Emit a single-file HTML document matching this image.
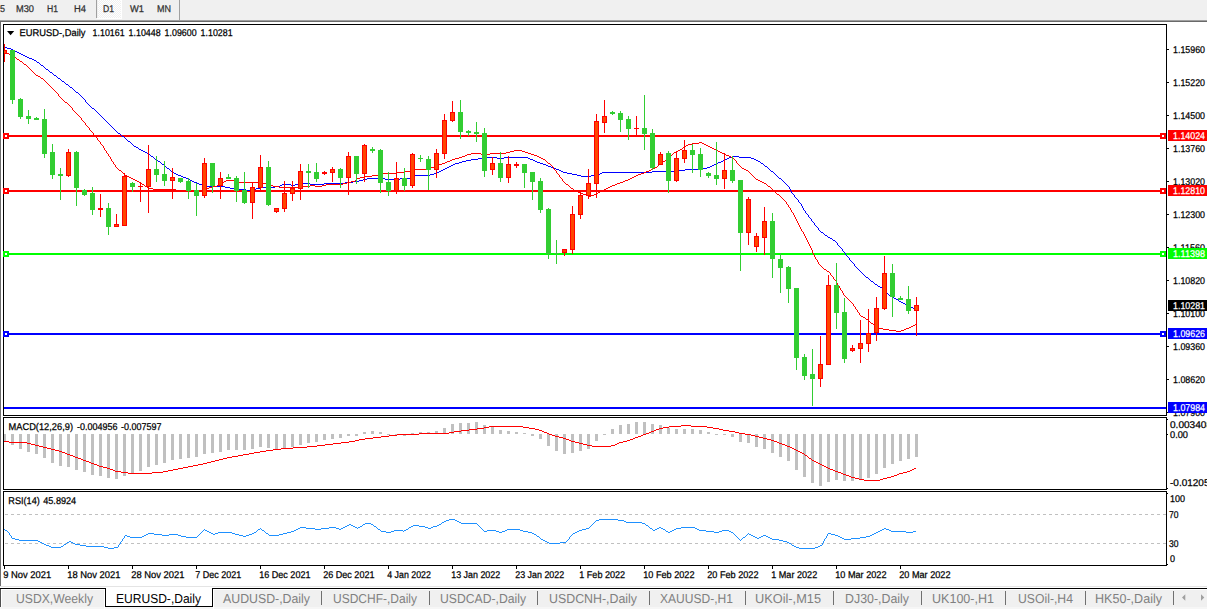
<!DOCTYPE html>
<html><head><meta charset="utf-8"><title>chart</title>
<style>
html,body{margin:0;padding:0;background:#fff;overflow:hidden}
svg{display:block;font-family:"Liberation Sans",sans-serif;text-rendering:geometricPrecision}
</style></head><body>
<svg width="1207" height="609" viewBox="0 0 1207 609" shape-rendering="crispEdges">
<rect x="0" y="0" width="1207" height="20" fill="#f0f0f0"/>
<rect x="0" y="20" width="1207" height="1" fill="#a0a0a0"/>
<rect x="0" y="21" width="1207" height="1" fill="#696969"/>
<rect x="0" y="22" width="1" height="564" fill="#6e6e6e"/>
<pattern id="dz" width="2" height="2" patternUnits="userSpaceOnUse"><rect width="2" height="2" fill="#f0f0f0"/><rect width="1" height="1" fill="#fff"/><rect x="1" y="1" width="1" height="1" fill="#fff"/></pattern>
<rect x="98" y="0" width="23" height="18" fill="url(#dz)"/>
<rect x="121" y="0" width="1" height="19" fill="#ffffff"/>
<rect x="97" y="18" width="25" height="1" fill="#ffffff"/>
<rect x="96" y="0" width="1" height="18" fill="#a0a0a0"/>
<rect x="179" y="0" width="1" height="20" fill="#a0a0a0"/>
<text x="0" y="12" font-size="9.8" fill="#303030" text-anchor="start" textLength="5" lengthAdjust="spacingAndGlyphs" stroke="#303030" stroke-width=".25">5</text>
<text x="16" y="12" font-size="9.8" fill="#303030" text-anchor="start" textLength="18" lengthAdjust="spacingAndGlyphs" stroke="#303030" stroke-width=".25">M30</text>
<text x="47" y="12" font-size="9.8" fill="#303030" text-anchor="start" textLength="11" lengthAdjust="spacingAndGlyphs" stroke="#303030" stroke-width=".25">H1</text>
<text x="74" y="12" font-size="9.8" fill="#303030" text-anchor="start" textLength="12" lengthAdjust="spacingAndGlyphs" stroke="#303030" stroke-width=".25">H4</text>
<text x="103" y="12" font-size="9.8" fill="#303030" text-anchor="start" textLength="11" lengthAdjust="spacingAndGlyphs" stroke="#303030" stroke-width=".25">D1</text>
<text x="130" y="12" font-size="9.8" fill="#303030" text-anchor="start" textLength="14" lengthAdjust="spacingAndGlyphs" stroke="#303030" stroke-width=".25">W1</text>
<text x="157" y="12" font-size="9.8" fill="#303030" text-anchor="start" textLength="14" lengthAdjust="spacingAndGlyphs" stroke="#303030" stroke-width=".25">MN</text>
<rect x="3" y="24" width="1164" height="1" fill="#000"/>
<rect x="3" y="24" width="1" height="392" fill="#000"/>
<rect x="3" y="415" width="1164" height="1" fill="#000"/>
<rect x="1166" y="24" width="1" height="392" fill="#000"/>
<rect x="3" y="417" width="1164" height="1" fill="#000"/>
<rect x="3" y="417" width="1" height="73" fill="#000"/>
<rect x="3" y="489" width="1164" height="1" fill="#000"/>
<rect x="1166" y="417" width="1" height="73" fill="#000"/>
<rect x="3" y="491" width="1164" height="1" fill="#000"/>
<rect x="3" y="491" width="1" height="75" fill="#000"/>
<rect x="3" y="565" width="1164" height="1" fill="#000"/>
<rect x="1166" y="491" width="1" height="75" fill="#000"/>
<clipPath id="cm"><rect x="4" y="25" width="1162" height="390"/></clipPath>
<g clip-path="url(#cm)">
<rect x="3" y="135" width="1164" height="2" fill="#ff0000"/>
<rect x="3" y="190" width="1164" height="2" fill="#ff0000"/>
<rect x="3" y="253" width="1164" height="2" fill="#00ff00"/>
<rect x="3" y="333" width="1164" height="2" fill="#0000ff"/>
<rect x="3" y="407" width="1164" height="2" fill="#0000ff"/>
<path d="M4 47h3v1h-3zM7 48h4v1h-4zM11 49h2v1h-2zM13 50h2v1h-2zM15 51h2v1h-2zM17 52h2v1h-2zM19 53h2v1h-2zM21 54h2v1h-2zM23 55h2v1h-2zM25 56h2v1h-2zM27 57h2v1h-2zM29 58h3v1h-3zM32 59h2v1h-2zM34 60h2v1h-2zM36 61h1v1h-1zM37 62h2v1h-2zM39 63h1v1h-1zM40 64h1v1h-1zM41 65h2v1h-2zM43 66h1v1h-1zM44 67h1v1h-1zM45 68h1v1h-1zM46 69h2v1h-2zM48 70h1v1h-1zM49 71h1v1h-1zM50 72h2v1h-2zM52 73h1v1h-1zM53 74h1v1h-1zM54 75h2v1h-2zM56 76h1v1h-1zM57 77h1v1h-1zM58 78h2v1h-2zM60 79h1v1h-1zM61 80h1v1h-1zM62 81h2v1h-2zM64 82h1v1h-1zM65 83h1v1h-1zM66 84h2v1h-2zM68 85h1v1h-1zM69 86h1v1h-1zM70 87h2v1h-2zM72 88h1v1h-1zM73 89h1v1h-1zM74 90h1v1h-1zM75 91h1v1h-1zM76 92h2v1h-2zM78 93h1v1h-1zM79 94h1v1h-1zM80 95h1v1h-1zM81 96h1v1h-1zM82 97h1v1h-1zM83 98h1v1h-1zM84 99h1v1h-1zM85 100h1v1h-1zM85 101h1v1h-1zM86 102h1v1h-1zM87 103h1v1h-1zM88 104h1v1h-1zM89 105h1v1h-1zM90 106h1v1h-1zM91 107h1v1h-1zM92 108h2v1h-2zM94 109h1v1h-1zM95 110h1v1h-1zM96 111h1v1h-1zM97 112h1v1h-1zM98 113h1v1h-1zM99 114h1v1h-1zM100 115h1v1h-1zM101 116h1v1h-1zM102 117h1v1h-1zM103 118h1v1h-1zM104 119h1v1h-1zM105 120h1v1h-1zM106 121h1v1h-1zM107 122h1v1h-1zM108 123h1v1h-1zM109 124h1v1h-1zM110 125h1v1h-1zM111 126h1v1h-1zM112 127h1v1h-1zM113 128h1v1h-1zM114 129h1v1h-1zM115 130h1v1h-1zM116 131h1v1h-1zM117 132h1v1h-1zM118 133h2v1h-2zM120 134h1v1h-1zM121 135h1v1h-1zM122 136h2v1h-2zM124 137h1v1h-1zM125 138h1v1h-1zM126 139h1v1h-1zM127 140h1v1h-1zM128 141h2v1h-2zM130 142h1v1h-1zM131 143h1v1h-1zM132 144h1v1h-1zM133 145h1v1h-1zM134 146h2v1h-2zM136 147h2v1h-2zM138 148h1v1h-1zM139 149h2v1h-2zM141 150h2v1h-2zM143 151h2v1h-2zM145 152h2v1h-2zM147 153h1v1h-1zM148 154h2v1h-2zM150 155h1v1h-1zM151 156h2v1h-2zM732 156h7v1h-7zM153 157h1v1h-1zM485 157h12v1h-12zM504 157h24v1h-24zM729 157h3v1h-3zM739 157h12v1h-12zM154 158h1v1h-1zM478 158h7v1h-7zM497 158h7v1h-7zM528 158h2v1h-2zM727 158h2v1h-2zM751 158h3v1h-3zM155 159h2v1h-2zM471 159h7v1h-7zM530 159h3v1h-3zM725 159h2v1h-2zM754 159h2v1h-2zM157 160h1v1h-1zM466 160h5v1h-5zM533 160h2v1h-2zM723 160h2v1h-2zM756 160h2v1h-2zM158 161h2v1h-2zM462 161h4v1h-4zM535 161h2v1h-2zM721 161h2v1h-2zM758 161h2v1h-2zM160 162h1v1h-1zM459 162h3v1h-3zM537 162h3v1h-3zM718 162h3v1h-3zM760 162h1v1h-1zM161 163h1v1h-1zM455 163h4v1h-4zM540 163h3v1h-3zM716 163h2v1h-2zM761 163h2v1h-2zM162 164h2v1h-2zM453 164h2v1h-2zM543 164h3v1h-3zM714 164h2v1h-2zM763 164h1v1h-1zM164 165h1v1h-1zM451 165h2v1h-2zM546 165h2v1h-2zM712 165h2v1h-2zM764 165h1v1h-1zM165 166h1v1h-1zM449 166h2v1h-2zM548 166h3v1h-3zM710 166h2v1h-2zM765 166h2v1h-2zM166 167h1v1h-1zM447 167h2v1h-2zM551 167h3v1h-3zM707 167h3v1h-3zM767 167h1v1h-1zM167 168h2v1h-2zM445 168h2v1h-2zM554 168h2v1h-2zM703 168h4v1h-4zM768 168h1v1h-1zM169 169h1v1h-1zM443 169h2v1h-2zM556 169h3v1h-3zM685 169h18v1h-18zM769 169h1v1h-1zM170 170h1v1h-1zM441 170h2v1h-2zM559 170h2v1h-2zM678 170h7v1h-7zM770 170h1v1h-1zM171 171h2v1h-2zM439 171h2v1h-2zM561 171h2v1h-2zM652 171h26v1h-26zM771 171h2v1h-2zM173 172h1v1h-1zM437 172h2v1h-2zM563 172h4v1h-4zM602 172h50v1h-50zM773 172h1v1h-1zM174 173h2v1h-2zM434 173h3v1h-3zM567 173h5v1h-5zM600 173h2v1h-2zM774 173h1v1h-1zM176 174h2v1h-2zM430 174h4v1h-4zM572 174h5v1h-5zM597 174h3v1h-3zM775 174h1v1h-1zM178 175h3v1h-3zM415 175h15v1h-15zM577 175h4v1h-4zM591 175h6v1h-6zM776 175h1v1h-1zM181 176h2v1h-2zM413 176h2v1h-2zM581 176h10v1h-10zM777 176h1v1h-1zM183 177h3v1h-3zM410 177h3v1h-3zM778 177h1v1h-1zM186 178h2v1h-2zM367 178h18v1h-18zM400 178h10v1h-10zM779 178h2v1h-2zM188 179h2v1h-2zM363 179h4v1h-4zM385 179h15v1h-15zM781 179h1v1h-1zM190 180h2v1h-2zM359 180h4v1h-4zM782 180h1v1h-1zM192 181h2v1h-2zM353 181h6v1h-6zM783 181h1v1h-1zM194 182h3v1h-3zM345 182h8v1h-8zM784 182h1v1h-1zM197 183h2v1h-2zM302 183h8v1h-8zM324 183h21v1h-21zM785 183h1v1h-1zM199 184h4v1h-4zM282 184h9v1h-9zM295 184h7v1h-7zM310 184h14v1h-14zM786 184h1v1h-1zM203 185h4v1h-4zM280 185h2v1h-2zM291 185h4v1h-4zM787 185h1v1h-1zM207 186h18v1h-18zM275 186h5v1h-5zM788 186h1v1h-1zM225 187h5v1h-5zM261 187h14v1h-14zM789 187h1v1h-1zM230 188h8v1h-8zM256 188h5v1h-5zM789 188h1v1h-1zM238 189h8v1h-8zM252 189h4v1h-4zM790 189h1v1h-1zM246 190h6v1h-6zM790 190h1v1h-1zM791 191h1v1h-1zM791 192h1v1h-1zM792 193h1v1h-1zM793 194h1v1h-1zM794 195h1v1h-1zM794 196h1v1h-1zM795 197h1v1h-1zM796 198h1v1h-1zM797 199h1v1h-1zM798 200h1v1h-1zM798 201h1v1h-1zM799 202h1v1h-1zM800 203h1v1h-1zM801 204h1v1h-1zM801 205h1v1h-1zM802 206h1v1h-1zM802 207h1v1h-1zM803 208h1v1h-1zM803 209h1v1h-1zM804 210h1v1h-1zM805 211h1v1h-1zM805 212h1v1h-1zM806 213h1v1h-1zM807 214h1v1h-1zM808 215h1v1h-1zM808 216h1v1h-1zM809 217h1v1h-1zM810 218h1v1h-1zM811 219h1v1h-1zM811 220h1v1h-1zM812 221h1v1h-1zM813 222h1v1h-1zM814 223h1v1h-1zM814 224h1v1h-1zM815 225h1v1h-1zM816 226h1v1h-1zM817 227h1v1h-1zM818 228h1v1h-1zM818 229h1v1h-1zM819 230h1v1h-1zM820 231h1v1h-1zM821 232h2v1h-2zM823 233h1v1h-1zM824 234h1v1h-1zM825 235h2v1h-2zM827 236h1v1h-1zM828 237h2v1h-2zM830 238h2v1h-2zM832 239h1v1h-1zM833 240h2v1h-2zM835 241h1v1h-1zM836 242h1v1h-1zM837 243h1v1h-1zM837 244h1v1h-1zM838 245h1v1h-1zM839 246h1v1h-1zM840 247h1v1h-1zM841 248h1v1h-1zM842 249h1v1h-1zM842 250h1v1h-1zM843 251h1v1h-1zM844 252h1v1h-1zM845 253h1v1h-1zM845 254h1v1h-1zM846 255h1v1h-1zM847 256h1v1h-1zM848 257h1v1h-1zM849 258h1v1h-1zM849 259h1v1h-1zM850 260h1v1h-1zM851 261h1v1h-1zM852 262h1v1h-1zM853 263h1v1h-1zM854 264h1v1h-1zM854 265h1v1h-1zM855 266h1v1h-1zM856 267h1v1h-1zM857 268h1v1h-1zM858 269h1v1h-1zM859 270h1v1h-1zM860 271h1v1h-1zM861 272h1v1h-1zM862 273h1v1h-1zM863 274h1v1h-1zM864 275h1v1h-1zM865 276h1v1h-1zM866 277h2v1h-2zM868 278h1v1h-1zM869 279h1v1h-1zM870 280h1v1h-1zM871 281h2v1h-2zM873 282h1v1h-1zM874 283h1v1h-1zM875 284h2v1h-2zM877 285h1v1h-1zM878 286h2v1h-2zM880 287h2v1h-2zM882 288h1v1h-1zM883 289h1v1h-1zM884 290h1v1h-1zM885 291h1v1h-1zM886 292h1v1h-1zM887 293h1v1h-1zM888 294h1v1h-1zM889 295h1v1h-1zM890 296h2v1h-2zM892 297h2v1h-2zM894 298h2v1h-2zM896 299h2v1h-2zM898 300h1v1h-1zM899 301h2v1h-2zM901 302h2v1h-2zM903 303h2v1h-2zM905 304h2v1h-2zM907 305h2v1h-2zM909 306h2v1h-2zM911 307h2v1h-2zM913 308h4v1h-4z" fill="#0000ff"/>
<path d="M4 52h2v1h-2zM6 53h3v1h-3zM9 54h2v1h-2zM11 55h2v1h-2zM13 56h1v1h-1zM14 57h2v1h-2zM16 58h1v1h-1zM17 59h2v1h-2zM19 60h1v1h-1zM20 61h2v1h-2zM22 62h1v1h-1zM23 63h1v1h-1zM24 64h2v1h-2zM26 65h1v1h-1zM27 66h1v1h-1zM28 67h1v1h-1zM29 68h1v1h-1zM30 69h1v1h-1zM31 70h1v1h-1zM32 71h1v1h-1zM33 72h1v1h-1zM34 73h1v1h-1zM35 74h1v1h-1zM36 75h2v1h-2zM38 76h2v1h-2zM40 77h1v1h-1zM41 78h2v1h-2zM43 79h1v1h-1zM44 80h1v1h-1zM45 81h1v1h-1zM46 82h1v1h-1zM47 83h1v1h-1zM48 84h1v1h-1zM49 85h1v1h-1zM50 86h1v1h-1zM51 87h1v1h-1zM52 88h1v1h-1zM53 89h1v1h-1zM54 90h1v1h-1zM55 91h1v1h-1zM56 92h1v1h-1zM57 93h1v1h-1zM58 94h1v1h-1zM58 95h1v1h-1zM59 96h1v1h-1zM60 97h1v1h-1zM61 98h1v1h-1zM62 99h1v1h-1zM63 100h1v1h-1zM64 101h1v1h-1zM65 102h2v1h-2zM67 103h1v1h-1zM68 104h1v1h-1zM69 105h1v1h-1zM70 106h1v1h-1zM71 107h1v1h-1zM72 108h1v1h-1zM72 109h1v1h-1zM73 110h1v1h-1zM74 111h1v1h-1zM75 112h1v1h-1zM76 113h1v1h-1zM77 114h1v1h-1zM78 115h1v1h-1zM79 116h1v1h-1zM80 117h1v1h-1zM81 118h1v1h-1zM81 119h1v1h-1zM82 120h1v1h-1zM83 121h1v1h-1zM84 122h1v1h-1zM85 123h1v1h-1zM85 124h1v1h-1zM86 125h1v1h-1zM87 126h1v1h-1zM88 127h1v1h-1zM89 128h1v1h-1zM89 129h1v1h-1zM90 130h1v1h-1zM91 131h1v1h-1zM92 132h1v1h-1zM93 133h1v1h-1zM93 134h1v1h-1zM94 135h1v1h-1zM95 136h1v1h-1zM96 137h1v1h-1zM97 138h1v1h-1zM97 139h1v1h-1zM98 140h1v1h-1zM99 141h1v1h-1zM100 142h1v1h-1zM699 142h3v1h-3zM100 143h1v1h-1zM692 143h7v1h-7zM702 143h2v1h-2zM101 144h1v1h-1zM688 144h4v1h-4zM704 144h2v1h-2zM102 145h1v1h-1zM686 145h2v1h-2zM706 145h2v1h-2zM103 146h1v1h-1zM685 146h1v1h-1zM708 146h2v1h-2zM103 147h1v1h-1zM683 147h2v1h-2zM710 147h2v1h-2zM104 148h1v1h-1zM682 148h1v1h-1zM712 148h2v1h-2zM104 149h1v1h-1zM680 149h2v1h-2zM714 149h2v1h-2zM105 150h1v1h-1zM514 150h8v1h-8zM678 150h2v1h-2zM716 150h2v1h-2zM106 151h1v1h-1zM510 151h4v1h-4zM522 151h3v1h-3zM676 151h2v1h-2zM718 151h2v1h-2zM106 152h1v1h-1zM506 152h4v1h-4zM525 152h3v1h-3zM674 152h2v1h-2zM720 152h2v1h-2zM107 153h1v1h-1zM471 153h10v1h-10zM490 153h16v1h-16zM528 153h3v1h-3zM673 153h1v1h-1zM722 153h2v1h-2zM108 154h1v1h-1zM467 154h4v1h-4zM481 154h9v1h-9zM531 154h3v1h-3zM672 154h1v1h-1zM724 154h2v1h-2zM108 155h1v1h-1zM465 155h2v1h-2zM534 155h3v1h-3zM671 155h1v1h-1zM726 155h3v1h-3zM109 156h1v1h-1zM462 156h3v1h-3zM537 156h2v1h-2zM670 156h1v1h-1zM729 156h2v1h-2zM110 157h1v1h-1zM459 157h3v1h-3zM539 157h2v1h-2zM669 157h1v1h-1zM731 157h2v1h-2zM110 158h1v1h-1zM455 158h4v1h-4zM541 158h2v1h-2zM668 158h1v1h-1zM733 158h1v1h-1zM111 159h1v1h-1zM452 159h3v1h-3zM543 159h2v1h-2zM667 159h1v1h-1zM734 159h1v1h-1zM111 160h1v1h-1zM450 160h2v1h-2zM545 160h1v1h-1zM665 160h2v1h-2zM735 160h1v1h-1zM112 161h1v1h-1zM447 161h3v1h-3zM546 161h1v1h-1zM663 161h2v1h-2zM736 161h1v1h-1zM113 162h1v1h-1zM445 162h2v1h-2zM547 162h1v1h-1zM662 162h1v1h-1zM736 162h1v1h-1zM113 163h1v1h-1zM442 163h3v1h-3zM548 163h2v1h-2zM661 163h1v1h-1zM737 163h1v1h-1zM114 164h1v1h-1zM439 164h3v1h-3zM550 164h1v1h-1zM659 164h2v1h-2zM738 164h1v1h-1zM115 165h1v1h-1zM437 165h2v1h-2zM551 165h1v1h-1zM658 165h1v1h-1zM739 165h1v1h-1zM115 166h1v1h-1zM434 166h3v1h-3zM552 166h1v1h-1zM657 166h1v1h-1zM740 166h1v1h-1zM116 167h1v1h-1zM431 167h3v1h-3zM553 167h1v1h-1zM655 167h2v1h-2zM741 167h1v1h-1zM117 168h1v1h-1zM427 168h4v1h-4zM553 168h1v1h-1zM653 168h2v1h-2zM742 168h2v1h-2zM118 169h1v1h-1zM415 169h12v1h-12zM554 169h1v1h-1zM651 169h2v1h-2zM744 169h2v1h-2zM119 170h2v1h-2zM411 170h4v1h-4zM555 170h1v1h-1zM649 170h2v1h-2zM746 170h2v1h-2zM121 171h1v1h-1zM405 171h6v1h-6zM556 171h1v1h-1zM646 171h3v1h-3zM748 171h1v1h-1zM122 172h1v1h-1zM397 172h8v1h-8zM556 172h1v1h-1zM644 172h2v1h-2zM749 172h1v1h-1zM123 173h1v1h-1zM383 173h14v1h-14zM557 173h1v1h-1zM641 173h3v1h-3zM750 173h1v1h-1zM124 174h1v1h-1zM379 174h4v1h-4zM558 174h1v1h-1zM638 174h3v1h-3zM751 174h1v1h-1zM125 175h2v1h-2zM372 175h7v1h-7zM559 175h1v1h-1zM636 175h2v1h-2zM752 175h1v1h-1zM127 176h2v1h-2zM365 176h7v1h-7zM559 176h1v1h-1zM634 176h2v1h-2zM753 176h1v1h-1zM129 177h2v1h-2zM360 177h5v1h-5zM560 177h1v1h-1zM632 177h2v1h-2zM754 177h1v1h-1zM131 178h2v1h-2zM357 178h3v1h-3zM561 178h1v1h-1zM630 178h2v1h-2zM755 178h1v1h-1zM133 179h2v1h-2zM356 179h1v1h-1zM562 179h1v1h-1zM628 179h2v1h-2zM756 179h2v1h-2zM135 180h2v1h-2zM226 180h8v1h-8zM355 180h2v1h-2zM562 180h1v1h-1zM625 180h3v1h-3zM758 180h2v1h-2zM137 181h2v1h-2zM224 181h2v1h-2zM234 181h4v1h-4zM351 181h4v1h-4zM563 181h1v1h-1zM623 181h2v1h-2zM760 181h2v1h-2zM139 182h2v1h-2zM222 182h2v1h-2zM238 182h24v1h-24zM347 182h4v1h-4zM564 182h1v1h-1zM620 182h3v1h-3zM762 182h2v1h-2zM141 183h1v1h-1zM221 183h1v1h-1zM262 183h4v1h-4zM343 183h4v1h-4zM565 183h1v1h-1zM617 183h3v1h-3zM764 183h2v1h-2zM142 184h2v1h-2zM219 184h2v1h-2zM266 184h3v1h-3zM326 184h17v1h-17zM566 184h2v1h-2zM615 184h2v1h-2zM766 184h1v1h-1zM144 185h1v1h-1zM217 185h2v1h-2zM269 185h4v1h-4zM310 185h5v1h-5zM322 185h4v1h-4zM568 185h1v1h-1zM612 185h3v1h-3zM767 185h1v1h-1zM145 186h2v1h-2zM213 186h4v1h-4zM273 186h6v1h-6zM302 186h8v1h-8zM315 186h7v1h-7zM569 186h1v1h-1zM610 186h2v1h-2zM768 186h2v1h-2zM147 187h2v1h-2zM209 187h4v1h-4zM279 187h23v1h-23zM570 187h1v1h-1zM608 187h2v1h-2zM770 187h1v1h-1zM149 188h4v1h-4zM206 188h3v1h-3zM571 188h2v1h-2zM606 188h2v1h-2zM771 188h1v1h-1zM153 189h23v1h-23zM204 189h2v1h-2zM573 189h1v1h-1zM604 189h2v1h-2zM772 189h1v1h-1zM176 190h12v1h-12zM201 190h3v1h-3zM574 190h2v1h-2zM602 190h2v1h-2zM773 190h1v1h-1zM188 191h13v1h-13zM576 191h2v1h-2zM600 191h2v1h-2zM774 191h1v1h-1zM578 192h2v1h-2zM598 192h2v1h-2zM775 192h1v1h-1zM580 193h3v1h-3zM596 193h2v1h-2zM776 193h1v1h-1zM583 194h3v1h-3zM594 194h2v1h-2zM777 194h2v1h-2zM586 195h2v1h-2zM591 195h3v1h-3zM779 195h1v1h-1zM588 196h3v1h-3zM780 196h1v1h-1zM781 197h1v1h-1zM782 198h1v1h-1zM783 199h1v1h-1zM784 200h1v1h-1zM785 201h1v1h-1zM786 202h1v1h-1zM786 203h1v1h-1zM787 204h1v1h-1zM788 205h1v1h-1zM788 206h1v1h-1zM789 207h1v1h-1zM790 208h1v1h-1zM790 209h1v1h-1zM791 210h1v1h-1zM791 211h1v1h-1zM792 212h1v1h-1zM793 213h1v1h-1zM793 214h1v1h-1zM794 215h1v1h-1zM794 216h1v1h-1zM795 217h1v1h-1zM795 218h1v1h-1zM796 219h1v1h-1zM796 220h1v1h-1zM797 221h1v1h-1zM797 222h1v1h-1zM798 223h1v1h-1zM798 224h1v1h-1zM799 225h1v1h-1zM799 226h1v1h-1zM800 227h1v1h-1zM800 228h1v1h-1zM801 229h1v1h-1zM801 230h1v1h-1zM802 231h1v1h-1zM803 232h1v1h-1zM803 233h1v1h-1zM804 234h1v1h-1zM804 235h1v1h-1zM805 236h1v1h-1zM805 237h1v1h-1zM806 238h1v1h-1zM806 239h1v1h-1zM807 240h1v1h-1zM807 241h1v1h-1zM808 242h1v1h-1zM808 243h1v1h-1zM809 244h1v1h-1zM809 245h1v1h-1zM810 246h1v1h-1zM810 247h1v1h-1zM811 248h1v1h-1zM811 249h1v1h-1zM812 250h1v1h-1zM812 251h1v1h-1zM812 252h1v1h-1zM813 253h1v1h-1zM813 254h1v1h-1zM814 255h1v1h-1zM814 256h1v1h-1zM815 257h1v1h-1zM815 258h1v1h-1zM816 259h1v1h-1zM817 260h1v1h-1zM817 261h1v1h-1zM818 262h1v1h-1zM818 263h1v1h-1zM819 264h1v1h-1zM820 265h1v1h-1zM821 266h1v1h-1zM822 267h1v1h-1zM823 268h1v1h-1zM824 269h2v1h-2zM826 270h1v1h-1zM827 271h2v1h-2zM829 272h1v1h-1zM830 273h1v1h-1zM830 274h1v1h-1zM831 275h1v1h-1zM832 276h1v1h-1zM833 277h1v1h-1zM833 278h1v1h-1zM834 279h1v1h-1zM835 280h1v1h-1zM836 281h1v1h-1zM836 282h1v1h-1zM837 283h1v1h-1zM837 284h1v1h-1zM838 285h1v1h-1zM839 286h1v1h-1zM839 287h1v1h-1zM840 288h1v1h-1zM840 289h1v1h-1zM841 290h1v1h-1zM842 291h1v1h-1zM842 292h1v1h-1zM843 293h1v1h-1zM843 294h1v1h-1zM844 295h1v1h-1zM845 296h1v1h-1zM846 297h1v1h-1zM847 298h1v1h-1zM848 299h1v1h-1zM849 300h1v1h-1zM850 301h1v1h-1zM851 302h1v1h-1zM852 303h1v1h-1zM853 304h1v1h-1zM853 305h1v1h-1zM854 306h1v1h-1zM855 307h1v1h-1zM855 308h1v1h-1zM856 309h1v1h-1zM857 310h1v1h-1zM857 311h1v1h-1zM858 312h1v1h-1zM859 313h1v1h-1zM859 314h1v1h-1zM860 315h1v1h-1zM861 316h2v1h-2zM863 317h2v1h-2zM865 318h1v1h-1zM866 319h2v1h-2zM868 320h1v1h-1zM869 321h1v1h-1zM870 322h1v1h-1zM871 323h2v1h-2zM916 323h1v1h-1zM873 324h1v1h-1zM915 324h1v1h-1zM874 325h1v1h-1zM913 325h2v1h-2zM875 326h2v1h-2zM911 326h2v1h-2zM877 327h2v1h-2zM909 327h2v1h-2zM879 328h4v1h-4zM906 328h3v1h-3zM883 329h6v1h-6zM904 329h2v1h-2zM889 330h7v1h-7zM901 330h3v1h-3zM896 331h5v1h-5z" fill="#ff0000"/>
<rect x="4" y="44" width="1" height="18" fill="#ff0000"/>
<rect x="2" y="50" width="5" height="4" fill="#ff0000"/>
<rect x="3" y="51" width="3" height="2" fill="#ff4500"/>
<rect x="12" y="50" width="1" height="54" fill="#32cd32"/>
<rect x="10" y="50" width="5" height="50" fill="#32cd32"/>
<rect x="20" y="98" width="1" height="21" fill="#32cd32"/>
<rect x="18" y="99" width="5" height="18" fill="#32cd32"/>
<rect x="28" y="110" width="1" height="14" fill="#32cd32"/>
<rect x="26" y="116" width="5" height="3" fill="#32cd32"/>
<rect x="36" y="117" width="1" height="3" fill="#32cd32"/>
<rect x="34" y="118" width="5" height="2" fill="#32cd32"/>
<rect x="44" y="109" width="1" height="49" fill="#32cd32"/>
<rect x="42" y="119" width="5" height="35" fill="#32cd32"/>
<rect x="52" y="144" width="1" height="35" fill="#32cd32"/>
<rect x="50" y="152" width="5" height="23" fill="#32cd32"/>
<rect x="60" y="168" width="1" height="32" fill="#32cd32"/>
<rect x="58" y="174" width="5" height="2" fill="#32cd32"/>
<rect x="68" y="149" width="1" height="28" fill="#ff0000"/>
<rect x="66" y="152" width="5" height="24" fill="#ff0000"/>
<rect x="67" y="153" width="3" height="22" fill="#ff4500"/>
<rect x="76" y="151" width="1" height="55" fill="#32cd32"/>
<rect x="74" y="152" width="5" height="36" fill="#32cd32"/>
<rect x="84" y="189" width="1" height="7" fill="#32cd32"/>
<rect x="82" y="190" width="5" height="5" fill="#32cd32"/>
<rect x="92" y="187" width="1" height="28" fill="#32cd32"/>
<rect x="90" y="193" width="5" height="17" fill="#32cd32"/>
<rect x="100" y="194" width="1" height="23" fill="#ff0000"/>
<rect x="98" y="208" width="5" height="2" fill="#ff0000"/>
<rect x="108" y="203" width="1" height="32" fill="#32cd32"/>
<rect x="106" y="208" width="5" height="19" fill="#32cd32"/>
<rect x="116" y="214" width="1" height="13" fill="#ff0000"/>
<rect x="114" y="224" width="5" height="3" fill="#ff0000"/>
<rect x="115" y="225" width="3" height="1" fill="#ff4500"/>
<rect x="124" y="173" width="1" height="53" fill="#ff0000"/>
<rect x="122" y="176" width="5" height="50" fill="#ff0000"/>
<rect x="123" y="177" width="3" height="48" fill="#ff4500"/>
<rect x="132" y="182" width="1" height="10" fill="#32cd32"/>
<rect x="130" y="183" width="5" height="4" fill="#32cd32"/>
<rect x="140" y="182" width="1" height="20" fill="#ff0000"/>
<rect x="138" y="186" width="5" height="1" fill="#ff0000"/>
<rect x="148" y="145" width="1" height="68" fill="#ff0000"/>
<rect x="146" y="169" width="5" height="18" fill="#ff0000"/>
<rect x="147" y="170" width="3" height="16" fill="#ff4500"/>
<rect x="156" y="156" width="1" height="26" fill="#32cd32"/>
<rect x="154" y="169" width="5" height="6" fill="#32cd32"/>
<rect x="164" y="161" width="1" height="25" fill="#32cd32"/>
<rect x="162" y="174" width="5" height="7" fill="#32cd32"/>
<rect x="172" y="168" width="1" height="31" fill="#ff0000"/>
<rect x="170" y="177" width="5" height="4" fill="#ff0000"/>
<rect x="171" y="178" width="3" height="2" fill="#ff4500"/>
<rect x="180" y="178" width="1" height="5" fill="#32cd32"/>
<rect x="178" y="178" width="5" height="4" fill="#32cd32"/>
<rect x="188" y="178" width="1" height="21" fill="#32cd32"/>
<rect x="186" y="181" width="5" height="10" fill="#32cd32"/>
<rect x="196" y="183" width="1" height="33" fill="#32cd32"/>
<rect x="194" y="190" width="5" height="6" fill="#32cd32"/>
<rect x="204" y="158" width="1" height="40" fill="#ff0000"/>
<rect x="202" y="163" width="5" height="33" fill="#ff0000"/>
<rect x="203" y="164" width="3" height="31" fill="#ff4500"/>
<rect x="212" y="163" width="1" height="30" fill="#32cd32"/>
<rect x="210" y="163" width="5" height="23" fill="#32cd32"/>
<rect x="220" y="172" width="1" height="27" fill="#ff0000"/>
<rect x="218" y="178" width="5" height="8" fill="#ff0000"/>
<rect x="219" y="179" width="3" height="6" fill="#ff4500"/>
<rect x="228" y="174" width="1" height="5" fill="#32cd32"/>
<rect x="226" y="177" width="5" height="2" fill="#32cd32"/>
<rect x="236" y="176" width="1" height="26" fill="#32cd32"/>
<rect x="234" y="178" width="5" height="13" fill="#32cd32"/>
<rect x="244" y="172" width="1" height="32" fill="#32cd32"/>
<rect x="242" y="190" width="5" height="13" fill="#32cd32"/>
<rect x="252" y="182" width="1" height="37" fill="#ff0000"/>
<rect x="250" y="187" width="5" height="16" fill="#ff0000"/>
<rect x="251" y="188" width="3" height="14" fill="#ff4500"/>
<rect x="260" y="155" width="1" height="36" fill="#ff0000"/>
<rect x="258" y="167" width="5" height="21" fill="#ff0000"/>
<rect x="259" y="168" width="3" height="19" fill="#ff4500"/>
<rect x="268" y="161" width="1" height="45" fill="#32cd32"/>
<rect x="266" y="167" width="5" height="38" fill="#32cd32"/>
<rect x="276" y="208" width="1" height="5" fill="#ff0000"/>
<rect x="274" y="208" width="5" height="4" fill="#ff0000"/>
<rect x="275" y="209" width="3" height="2" fill="#ff4500"/>
<rect x="284" y="181" width="1" height="31" fill="#ff0000"/>
<rect x="282" y="193" width="5" height="16" fill="#ff0000"/>
<rect x="283" y="194" width="3" height="14" fill="#ff4500"/>
<rect x="292" y="181" width="1" height="20" fill="#ff0000"/>
<rect x="290" y="188" width="5" height="6" fill="#ff0000"/>
<rect x="291" y="189" width="3" height="4" fill="#ff4500"/>
<rect x="300" y="164" width="1" height="36" fill="#ff0000"/>
<rect x="298" y="171" width="5" height="18" fill="#ff0000"/>
<rect x="299" y="172" width="3" height="16" fill="#ff4500"/>
<rect x="308" y="164" width="1" height="24" fill="#32cd32"/>
<rect x="306" y="171" width="5" height="2" fill="#32cd32"/>
<rect x="316" y="163" width="1" height="19" fill="#32cd32"/>
<rect x="314" y="172" width="5" height="7" fill="#32cd32"/>
<rect x="324" y="171" width="1" height="4" fill="#ff0000"/>
<rect x="322" y="172" width="5" height="2" fill="#ff0000"/>
<rect x="332" y="167" width="1" height="15" fill="#ff0000"/>
<rect x="330" y="169" width="5" height="4" fill="#ff0000"/>
<rect x="331" y="170" width="3" height="2" fill="#ff4500"/>
<rect x="340" y="168" width="1" height="20" fill="#32cd32"/>
<rect x="338" y="169" width="5" height="9" fill="#32cd32"/>
<rect x="348" y="152" width="1" height="43" fill="#ff0000"/>
<rect x="346" y="156" width="5" height="22" fill="#ff0000"/>
<rect x="347" y="157" width="3" height="20" fill="#ff4500"/>
<rect x="356" y="156" width="1" height="28" fill="#32cd32"/>
<rect x="354" y="156" width="5" height="18" fill="#32cd32"/>
<rect x="364" y="144" width="1" height="38" fill="#ff0000"/>
<rect x="362" y="145" width="5" height="29" fill="#ff0000"/>
<rect x="363" y="146" width="3" height="27" fill="#ff4500"/>
<rect x="372" y="147" width="1" height="6" fill="#32cd32"/>
<rect x="370" y="149" width="5" height="2" fill="#32cd32"/>
<rect x="380" y="149" width="1" height="44" fill="#32cd32"/>
<rect x="378" y="150" width="5" height="33" fill="#32cd32"/>
<rect x="388" y="172" width="1" height="24" fill="#32cd32"/>
<rect x="386" y="182" width="5" height="9" fill="#32cd32"/>
<rect x="396" y="162" width="1" height="32" fill="#ff0000"/>
<rect x="394" y="178" width="5" height="13" fill="#ff0000"/>
<rect x="395" y="179" width="3" height="11" fill="#ff4500"/>
<rect x="404" y="168" width="1" height="23" fill="#32cd32"/>
<rect x="402" y="178" width="5" height="8" fill="#32cd32"/>
<rect x="412" y="153" width="1" height="35" fill="#ff0000"/>
<rect x="410" y="154" width="5" height="32" fill="#ff0000"/>
<rect x="411" y="155" width="3" height="30" fill="#ff4500"/>
<rect x="420" y="155" width="1" height="7" fill="#32cd32"/>
<rect x="418" y="158" width="5" height="1" fill="#32cd32"/>
<rect x="428" y="156" width="1" height="34" fill="#32cd32"/>
<rect x="426" y="159" width="5" height="11" fill="#32cd32"/>
<rect x="436" y="149" width="1" height="29" fill="#ff0000"/>
<rect x="434" y="153" width="5" height="17" fill="#ff0000"/>
<rect x="435" y="154" width="3" height="15" fill="#ff4500"/>
<rect x="444" y="114" width="1" height="45" fill="#ff0000"/>
<rect x="442" y="120" width="5" height="34" fill="#ff0000"/>
<rect x="443" y="121" width="3" height="32" fill="#ff4500"/>
<rect x="452" y="101" width="1" height="21" fill="#ff0000"/>
<rect x="450" y="112" width="5" height="9" fill="#ff0000"/>
<rect x="451" y="113" width="3" height="7" fill="#ff4500"/>
<rect x="460" y="100" width="1" height="39" fill="#32cd32"/>
<rect x="458" y="112" width="5" height="20" fill="#32cd32"/>
<rect x="468" y="130" width="1" height="6" fill="#32cd32"/>
<rect x="466" y="131" width="5" height="2" fill="#32cd32"/>
<rect x="476" y="122" width="1" height="20" fill="#32cd32"/>
<rect x="474" y="132" width="5" height="2" fill="#32cd32"/>
<rect x="484" y="128" width="1" height="49" fill="#32cd32"/>
<rect x="482" y="133" width="5" height="38" fill="#32cd32"/>
<rect x="492" y="157" width="1" height="18" fill="#ff0000"/>
<rect x="490" y="163" width="5" height="7" fill="#ff0000"/>
<rect x="491" y="164" width="3" height="5" fill="#ff4500"/>
<rect x="500" y="152" width="1" height="30" fill="#32cd32"/>
<rect x="498" y="163" width="5" height="15" fill="#32cd32"/>
<rect x="508" y="156" width="1" height="27" fill="#ff0000"/>
<rect x="506" y="164" width="5" height="14" fill="#ff0000"/>
<rect x="507" y="165" width="3" height="12" fill="#ff4500"/>
<rect x="516" y="162" width="1" height="6" fill="#ff0000"/>
<rect x="514" y="164" width="5" height="2" fill="#ff0000"/>
<rect x="524" y="164" width="1" height="24" fill="#32cd32"/>
<rect x="522" y="164" width="5" height="9" fill="#32cd32"/>
<rect x="532" y="172" width="1" height="28" fill="#32cd32"/>
<rect x="530" y="172" width="5" height="10" fill="#32cd32"/>
<rect x="540" y="178" width="1" height="35" fill="#32cd32"/>
<rect x="538" y="181" width="5" height="29" fill="#32cd32"/>
<rect x="548" y="208" width="1" height="51" fill="#32cd32"/>
<rect x="546" y="209" width="5" height="45" fill="#32cd32"/>
<rect x="556" y="240" width="1" height="24" fill="#32cd32"/>
<rect x="554" y="253" width="5" height="1" fill="#32cd32"/>
<rect x="564" y="249" width="1" height="7" fill="#ff0000"/>
<rect x="562" y="249" width="5" height="4" fill="#ff0000"/>
<rect x="563" y="250" width="3" height="2" fill="#ff4500"/>
<rect x="572" y="206" width="1" height="48" fill="#ff0000"/>
<rect x="570" y="214" width="5" height="36" fill="#ff0000"/>
<rect x="571" y="215" width="3" height="34" fill="#ff4500"/>
<rect x="580" y="192" width="1" height="27" fill="#ff0000"/>
<rect x="578" y="195" width="5" height="20" fill="#ff0000"/>
<rect x="579" y="196" width="3" height="18" fill="#ff4500"/>
<rect x="588" y="169" width="1" height="30" fill="#ff0000"/>
<rect x="586" y="183" width="5" height="13" fill="#ff0000"/>
<rect x="587" y="184" width="3" height="11" fill="#ff4500"/>
<rect x="596" y="114" width="1" height="84" fill="#ff0000"/>
<rect x="594" y="121" width="5" height="63" fill="#ff0000"/>
<rect x="595" y="122" width="3" height="61" fill="#ff4500"/>
<rect x="604" y="100" width="1" height="33" fill="#ff0000"/>
<rect x="602" y="116" width="5" height="7" fill="#ff0000"/>
<rect x="603" y="117" width="3" height="5" fill="#ff4500"/>
<rect x="612" y="111" width="1" height="4" fill="#32cd32"/>
<rect x="610" y="112" width="5" height="2" fill="#32cd32"/>
<rect x="620" y="111" width="1" height="21" fill="#32cd32"/>
<rect x="618" y="113" width="5" height="7" fill="#32cd32"/>
<rect x="628" y="116" width="1" height="24" fill="#32cd32"/>
<rect x="626" y="119" width="5" height="10" fill="#32cd32"/>
<rect x="636" y="116" width="1" height="20" fill="#ff0000"/>
<rect x="634" y="128" width="5" height="1" fill="#ff0000"/>
<rect x="644" y="95" width="1" height="55" fill="#32cd32"/>
<rect x="642" y="128" width="5" height="6" fill="#32cd32"/>
<rect x="652" y="129" width="1" height="41" fill="#32cd32"/>
<rect x="650" y="133" width="5" height="35" fill="#32cd32"/>
<rect x="660" y="152" width="1" height="13" fill="#ff0000"/>
<rect x="658" y="154" width="5" height="11" fill="#ff0000"/>
<rect x="659" y="155" width="3" height="9" fill="#ff4500"/>
<rect x="668" y="151" width="1" height="42" fill="#32cd32"/>
<rect x="666" y="153" width="5" height="28" fill="#32cd32"/>
<rect x="676" y="152" width="1" height="30" fill="#ff0000"/>
<rect x="674" y="158" width="5" height="23" fill="#ff0000"/>
<rect x="675" y="159" width="3" height="21" fill="#ff4500"/>
<rect x="684" y="140" width="1" height="23" fill="#ff0000"/>
<rect x="682" y="150" width="5" height="9" fill="#ff0000"/>
<rect x="683" y="151" width="3" height="7" fill="#ff4500"/>
<rect x="692" y="144" width="1" height="29" fill="#32cd32"/>
<rect x="690" y="150" width="5" height="5" fill="#32cd32"/>
<rect x="700" y="148" width="1" height="29" fill="#32cd32"/>
<rect x="698" y="154" width="5" height="16" fill="#32cd32"/>
<rect x="708" y="172" width="1" height="6" fill="#32cd32"/>
<rect x="706" y="173" width="5" height="3" fill="#32cd32"/>
<rect x="716" y="142" width="1" height="43" fill="#32cd32"/>
<rect x="714" y="175" width="5" height="4" fill="#32cd32"/>
<rect x="724" y="153" width="1" height="36" fill="#ff0000"/>
<rect x="722" y="170" width="5" height="9" fill="#ff0000"/>
<rect x="723" y="171" width="3" height="7" fill="#ff4500"/>
<rect x="732" y="156" width="1" height="27" fill="#32cd32"/>
<rect x="730" y="170" width="5" height="11" fill="#32cd32"/>
<rect x="740" y="180" width="1" height="91" fill="#32cd32"/>
<rect x="738" y="180" width="5" height="53" fill="#32cd32"/>
<rect x="748" y="197" width="1" height="48" fill="#ff0000"/>
<rect x="746" y="199" width="5" height="34" fill="#ff0000"/>
<rect x="747" y="200" width="3" height="32" fill="#ff4500"/>
<rect x="756" y="233" width="1" height="19" fill="#ff0000"/>
<rect x="754" y="236" width="5" height="11" fill="#ff0000"/>
<rect x="755" y="237" width="3" height="9" fill="#ff4500"/>
<rect x="764" y="207" width="1" height="48" fill="#ff0000"/>
<rect x="762" y="221" width="5" height="17" fill="#ff0000"/>
<rect x="763" y="222" width="3" height="15" fill="#ff4500"/>
<rect x="772" y="213" width="1" height="65" fill="#32cd32"/>
<rect x="770" y="221" width="5" height="38" fill="#32cd32"/>
<rect x="780" y="253" width="1" height="40" fill="#32cd32"/>
<rect x="778" y="259" width="5" height="9" fill="#32cd32"/>
<rect x="788" y="266" width="1" height="37" fill="#32cd32"/>
<rect x="786" y="267" width="5" height="22" fill="#32cd32"/>
<rect x="796" y="288" width="1" height="82" fill="#32cd32"/>
<rect x="794" y="288" width="5" height="70" fill="#32cd32"/>
<rect x="804" y="354" width="1" height="26" fill="#32cd32"/>
<rect x="802" y="357" width="5" height="19" fill="#32cd32"/>
<rect x="812" y="349" width="1" height="57" fill="#32cd32"/>
<rect x="810" y="374" width="5" height="5" fill="#32cd32"/>
<rect x="820" y="336" width="1" height="51" fill="#ff0000"/>
<rect x="818" y="364" width="5" height="15" fill="#ff0000"/>
<rect x="819" y="365" width="3" height="13" fill="#ff4500"/>
<rect x="828" y="275" width="1" height="90" fill="#ff0000"/>
<rect x="826" y="285" width="5" height="80" fill="#ff0000"/>
<rect x="827" y="286" width="3" height="78" fill="#ff4500"/>
<rect x="836" y="263" width="1" height="66" fill="#32cd32"/>
<rect x="834" y="285" width="5" height="28" fill="#32cd32"/>
<rect x="844" y="298" width="1" height="65" fill="#32cd32"/>
<rect x="842" y="312" width="5" height="47" fill="#32cd32"/>
<rect x="852" y="345" width="1" height="7" fill="#ff0000"/>
<rect x="850" y="348" width="5" height="3" fill="#ff0000"/>
<rect x="851" y="349" width="3" height="1" fill="#ff4500"/>
<rect x="860" y="320" width="1" height="43" fill="#ff0000"/>
<rect x="858" y="343" width="5" height="6" fill="#ff0000"/>
<rect x="859" y="344" width="3" height="4" fill="#ff4500"/>
<rect x="868" y="309" width="1" height="43" fill="#ff0000"/>
<rect x="866" y="333" width="5" height="11" fill="#ff0000"/>
<rect x="867" y="334" width="3" height="9" fill="#ff4500"/>
<rect x="876" y="297" width="1" height="44" fill="#ff0000"/>
<rect x="874" y="308" width="5" height="25" fill="#ff0000"/>
<rect x="875" y="309" width="3" height="23" fill="#ff4500"/>
<rect x="884" y="256" width="1" height="54" fill="#ff0000"/>
<rect x="882" y="273" width="5" height="36" fill="#ff0000"/>
<rect x="883" y="274" width="3" height="34" fill="#ff4500"/>
<rect x="892" y="264" width="1" height="53" fill="#32cd32"/>
<rect x="890" y="273" width="5" height="24" fill="#32cd32"/>
<rect x="900" y="296" width="1" height="4" fill="#32cd32"/>
<rect x="898" y="298" width="5" height="2" fill="#32cd32"/>
<rect x="908" y="286" width="1" height="28" fill="#32cd32"/>
<rect x="906" y="299" width="5" height="12" fill="#32cd32"/>
<rect x="916" y="297" width="1" height="39" fill="#ff0000"/>
<rect x="914" y="305" width="5" height="6" fill="#ff0000"/>
<rect x="915" y="306" width="3" height="4" fill="#ff4500"/>
</g>
<rect x="3" y="133" width="6" height="6" fill="#ff0000"/>
<rect x="5" y="135" width="2" height="2" fill="#fff"/>
<rect x="1160" y="133" width="6" height="6" fill="#ff0000"/>
<rect x="1162" y="135" width="2" height="2" fill="#fff"/>
<rect x="3" y="188" width="6" height="6" fill="#ff0000"/>
<rect x="5" y="190" width="2" height="2" fill="#fff"/>
<rect x="1160" y="188" width="6" height="6" fill="#ff0000"/>
<rect x="1162" y="190" width="2" height="2" fill="#fff"/>
<rect x="3" y="251" width="6" height="6" fill="#00ff00"/>
<rect x="5" y="253" width="2" height="2" fill="#fff"/>
<rect x="1160" y="251" width="6" height="6" fill="#00ff00"/>
<rect x="1162" y="253" width="2" height="2" fill="#fff"/>
<rect x="3" y="331" width="6" height="6" fill="#0000ff"/>
<rect x="5" y="333" width="2" height="2" fill="#fff"/>
<rect x="1160" y="331" width="6" height="6" fill="#0000ff"/>
<rect x="1162" y="333" width="2" height="2" fill="#fff"/>
<rect x="1167" y="49" width="2" height="1" fill="#000"/>
<text x="1173" y="53" font-size="9.8" fill="#000" text-anchor="start" textLength="32" lengthAdjust="spacingAndGlyphs" stroke="#000" stroke-width=".25">1.15960</text>
<rect x="1167" y="82" width="2" height="1" fill="#000"/>
<text x="1173" y="86" font-size="9.8" fill="#000" text-anchor="start" textLength="32" lengthAdjust="spacingAndGlyphs" stroke="#000" stroke-width=".25">1.15220</text>
<rect x="1167" y="115" width="2" height="1" fill="#000"/>
<text x="1173" y="119" font-size="9.8" fill="#000" text-anchor="start" textLength="32" lengthAdjust="spacingAndGlyphs" stroke="#000" stroke-width=".25">1.14500</text>
<rect x="1167" y="148" width="2" height="1" fill="#000"/>
<text x="1173" y="152" font-size="9.8" fill="#000" text-anchor="start" textLength="32" lengthAdjust="spacingAndGlyphs" stroke="#000" stroke-width=".25">1.13760</text>
<rect x="1167" y="181" width="2" height="1" fill="#000"/>
<text x="1173" y="185" font-size="9.8" fill="#000" text-anchor="start" textLength="32" lengthAdjust="spacingAndGlyphs" stroke="#000" stroke-width=".25">1.13020</text>
<rect x="1167" y="214" width="2" height="1" fill="#000"/>
<text x="1173" y="218" font-size="9.8" fill="#000" text-anchor="start" textLength="32" lengthAdjust="spacingAndGlyphs" stroke="#000" stroke-width=".25">1.12300</text>
<rect x="1167" y="247" width="2" height="1" fill="#000"/>
<text x="1173" y="251" font-size="9.8" fill="#000" text-anchor="start" textLength="32" lengthAdjust="spacingAndGlyphs" stroke="#000" stroke-width=".25">1.11560</text>
<rect x="1167" y="280" width="2" height="1" fill="#000"/>
<text x="1173" y="284" font-size="9.8" fill="#000" text-anchor="start" textLength="32" lengthAdjust="spacingAndGlyphs" stroke="#000" stroke-width=".25">1.10820</text>
<rect x="1167" y="313" width="2" height="1" fill="#000"/>
<text x="1173" y="317" font-size="9.8" fill="#000" text-anchor="start" textLength="32" lengthAdjust="spacingAndGlyphs" stroke="#000" stroke-width=".25">1.10100</text>
<rect x="1167" y="346" width="2" height="1" fill="#000"/>
<text x="1173" y="350" font-size="9.8" fill="#000" text-anchor="start" textLength="32" lengthAdjust="spacingAndGlyphs" stroke="#000" stroke-width=".25">1.09360</text>
<rect x="1167" y="379" width="2" height="1" fill="#000"/>
<text x="1173" y="383" font-size="9.8" fill="#000" text-anchor="start" textLength="32" lengthAdjust="spacingAndGlyphs" stroke="#000" stroke-width=".25">1.08620</text>
<rect x="1167" y="412" width="2" height="1" fill="#000"/>
<text x="1173" y="416" font-size="9.8" fill="#000" text-anchor="start" textLength="32" lengthAdjust="spacingAndGlyphs" stroke="#000" stroke-width=".25">1.07900</text>
<rect x="1168" y="130" width="39" height="11" fill="#ff0000"/>
<text x="1173" y="139" font-size="9.8" fill="#fff" text-anchor="start" textLength="32" lengthAdjust="spacingAndGlyphs" stroke="#fff" stroke-width=".25">1.14024</text>
<rect x="1168" y="185" width="39" height="11" fill="#ff0000"/>
<text x="1173" y="194" font-size="9.8" fill="#fff" text-anchor="start" textLength="32" lengthAdjust="spacingAndGlyphs" stroke="#fff" stroke-width=".25">1.12810</text>
<rect x="1168" y="248" width="39" height="11" fill="#00ff00"/>
<text x="1173" y="257" font-size="9.8" fill="#fff" text-anchor="start" textLength="32" lengthAdjust="spacingAndGlyphs" stroke="#fff" stroke-width=".25">1.11398</text>
<rect x="1168" y="328" width="39" height="11" fill="#0000ff"/>
<text x="1173" y="337" font-size="9.8" fill="#fff" text-anchor="start" textLength="32" lengthAdjust="spacingAndGlyphs" stroke="#fff" stroke-width=".25">1.09626</text>
<rect x="1168" y="402" width="39" height="11" fill="#0000ff"/>
<text x="1173" y="411" font-size="9.8" fill="#fff" text-anchor="start" textLength="32" lengthAdjust="spacingAndGlyphs" stroke="#fff" stroke-width=".25">1.07984</text>
<rect x="1168" y="300" width="39" height="11" fill="#000"/>
<text x="1173" y="309" font-size="9.8" fill="#fff" text-anchor="start" textLength="32" lengthAdjust="spacingAndGlyphs" stroke="#fff" stroke-width=".25">1.10281</text>
<path d="M7 31h7.2l-3.6 4.2z" fill="#000" shape-rendering="geometricPrecision"/>
<text x="19.5" y="36" font-size="9.8" fill="#000" text-anchor="start" textLength="66" lengthAdjust="spacingAndGlyphs" stroke="#000" stroke-width=".25">EURUSD-,Daily</text>
<text x="92.6" y="36" font-size="9.8" fill="#000" text-anchor="start" textLength="32" lengthAdjust="spacingAndGlyphs" stroke="#000" stroke-width=".25">1.10161</text>
<text x="128.6" y="36" font-size="9.8" fill="#000" text-anchor="start" textLength="32" lengthAdjust="spacingAndGlyphs" stroke="#000" stroke-width=".25">1.10448</text>
<text x="164.6" y="36" font-size="9.8" fill="#000" text-anchor="start" textLength="32" lengthAdjust="spacingAndGlyphs" stroke="#000" stroke-width=".25">1.09600</text>
<text x="200.6" y="36" font-size="9.8" fill="#000" text-anchor="start" textLength="32" lengthAdjust="spacingAndGlyphs" stroke="#000" stroke-width=".25">1.10281</text>
<clipPath id="cd"><rect x="4" y="418" width="1162" height="71"/></clipPath>
<g clip-path="url(#cd)">
<rect x="3" y="434" width="3" height="8" fill="#c0c0c0"/>
<rect x="11" y="434" width="3" height="11" fill="#c0c0c0"/>
<rect x="19" y="434" width="3" height="15" fill="#c0c0c0"/>
<rect x="27" y="434" width="3" height="18" fill="#c0c0c0"/>
<rect x="35" y="434" width="3" height="20" fill="#c0c0c0"/>
<rect x="43" y="434" width="3" height="24" fill="#c0c0c0"/>
<rect x="51" y="434" width="3" height="29" fill="#c0c0c0"/>
<rect x="59" y="434" width="3" height="32" fill="#c0c0c0"/>
<rect x="67" y="434" width="3" height="33" fill="#c0c0c0"/>
<rect x="75" y="434" width="3" height="36" fill="#c0c0c0"/>
<rect x="83" y="434" width="3" height="38" fill="#c0c0c0"/>
<rect x="91" y="434" width="3" height="41" fill="#c0c0c0"/>
<rect x="99" y="434" width="3" height="42" fill="#c0c0c0"/>
<rect x="107" y="434" width="3" height="44" fill="#c0c0c0"/>
<rect x="115" y="434" width="3" height="45" fill="#c0c0c0"/>
<rect x="123" y="434" width="3" height="42" fill="#c0c0c0"/>
<rect x="131" y="434" width="3" height="40" fill="#c0c0c0"/>
<rect x="139" y="434" width="3" height="37" fill="#c0c0c0"/>
<rect x="147" y="434" width="3" height="33" fill="#c0c0c0"/>
<rect x="155" y="434" width="3" height="31" fill="#c0c0c0"/>
<rect x="163" y="434" width="3" height="29" fill="#c0c0c0"/>
<rect x="171" y="434" width="3" height="26" fill="#c0c0c0"/>
<rect x="179" y="434" width="3" height="25" fill="#c0c0c0"/>
<rect x="187" y="434" width="3" height="24" fill="#c0c0c0"/>
<rect x="195" y="434" width="3" height="23" fill="#c0c0c0"/>
<rect x="203" y="434" width="3" height="20" fill="#c0c0c0"/>
<rect x="211" y="434" width="3" height="19" fill="#c0c0c0"/>
<rect x="219" y="434" width="3" height="18" fill="#c0c0c0"/>
<rect x="227" y="434" width="3" height="16" fill="#c0c0c0"/>
<rect x="235" y="434" width="3" height="16" fill="#c0c0c0"/>
<rect x="243" y="434" width="3" height="16" fill="#c0c0c0"/>
<rect x="251" y="434" width="3" height="15" fill="#c0c0c0"/>
<rect x="259" y="434" width="3" height="13" fill="#c0c0c0"/>
<rect x="267" y="434" width="3" height="14" fill="#c0c0c0"/>
<rect x="275" y="434" width="3" height="15" fill="#c0c0c0"/>
<rect x="283" y="434" width="3" height="14" fill="#c0c0c0"/>
<rect x="291" y="434" width="3" height="13" fill="#c0c0c0"/>
<rect x="299" y="434" width="3" height="11" fill="#c0c0c0"/>
<rect x="307" y="434" width="3" height="9" fill="#c0c0c0"/>
<rect x="315" y="434" width="3" height="8" fill="#c0c0c0"/>
<rect x="323" y="434" width="3" height="6" fill="#c0c0c0"/>
<rect x="331" y="434" width="3" height="5" fill="#c0c0c0"/>
<rect x="339" y="434" width="3" height="4" fill="#c0c0c0"/>
<rect x="347" y="434" width="3" height="2" fill="#c0c0c0"/>
<rect x="355" y="434" width="3" height="2" fill="#c0c0c0"/>
<rect x="363" y="432" width="3" height="2" fill="#c0c0c0"/>
<rect x="371" y="431" width="3" height="3" fill="#c0c0c0"/>
<rect x="379" y="432" width="3" height="2" fill="#c0c0c0"/>
<rect x="387" y="434" width="3" height="1" fill="#c0c0c0"/>
<rect x="395" y="434" width="3" height="1" fill="#c0c0c0"/>
<rect x="403" y="434" width="3" height="2" fill="#c0c0c0"/>
<rect x="411" y="433" width="3" height="1" fill="#c0c0c0"/>
<rect x="419" y="432" width="3" height="2" fill="#c0c0c0"/>
<rect x="427" y="432" width="3" height="2" fill="#c0c0c0"/>
<rect x="435" y="431" width="3" height="3" fill="#c0c0c0"/>
<rect x="443" y="428" width="3" height="6" fill="#c0c0c0"/>
<rect x="451" y="424" width="3" height="10" fill="#c0c0c0"/>
<rect x="459" y="423" width="3" height="11" fill="#c0c0c0"/>
<rect x="467" y="423" width="3" height="11" fill="#c0c0c0"/>
<rect x="475" y="422" width="3" height="12" fill="#c0c0c0"/>
<rect x="483" y="425" width="3" height="9" fill="#c0c0c0"/>
<rect x="491" y="427" width="3" height="7" fill="#c0c0c0"/>
<rect x="499" y="430" width="3" height="4" fill="#c0c0c0"/>
<rect x="507" y="431" width="3" height="3" fill="#c0c0c0"/>
<rect x="515" y="432" width="3" height="2" fill="#c0c0c0"/>
<rect x="523" y="433" width="3" height="1" fill="#c0c0c0"/>
<rect x="531" y="434" width="3" height="2" fill="#c0c0c0"/>
<rect x="539" y="434" width="3" height="5" fill="#c0c0c0"/>
<rect x="547" y="434" width="3" height="12" fill="#c0c0c0"/>
<rect x="555" y="434" width="3" height="17" fill="#c0c0c0"/>
<rect x="563" y="434" width="3" height="20" fill="#c0c0c0"/>
<rect x="571" y="434" width="3" height="19" fill="#c0c0c0"/>
<rect x="579" y="434" width="3" height="17" fill="#c0c0c0"/>
<rect x="587" y="434" width="3" height="15" fill="#c0c0c0"/>
<rect x="595" y="434" width="3" height="7" fill="#c0c0c0"/>
<rect x="603" y="434" width="3" height="1" fill="#c0c0c0"/>
<rect x="611" y="429" width="3" height="5" fill="#c0c0c0"/>
<rect x="619" y="425" width="3" height="9" fill="#c0c0c0"/>
<rect x="627" y="424" width="3" height="10" fill="#c0c0c0"/>
<rect x="635" y="422" width="3" height="12" fill="#c0c0c0"/>
<rect x="643" y="422" width="3" height="12" fill="#c0c0c0"/>
<rect x="651" y="424" width="3" height="10" fill="#c0c0c0"/>
<rect x="659" y="425" width="3" height="9" fill="#c0c0c0"/>
<rect x="667" y="428" width="3" height="6" fill="#c0c0c0"/>
<rect x="675" y="429" width="3" height="5" fill="#c0c0c0"/>
<rect x="683" y="429" width="3" height="5" fill="#c0c0c0"/>
<rect x="691" y="429" width="3" height="5" fill="#c0c0c0"/>
<rect x="699" y="430" width="3" height="4" fill="#c0c0c0"/>
<rect x="707" y="432" width="3" height="2" fill="#c0c0c0"/>
<rect x="715" y="434" width="3" height="1" fill="#c0c0c0"/>
<rect x="723" y="434" width="3" height="1" fill="#c0c0c0"/>
<rect x="731" y="434" width="3" height="3" fill="#c0c0c0"/>
<rect x="739" y="434" width="3" height="8" fill="#c0c0c0"/>
<rect x="747" y="434" width="3" height="9" fill="#c0c0c0"/>
<rect x="755" y="434" width="3" height="13" fill="#c0c0c0"/>
<rect x="763" y="434" width="3" height="15" fill="#c0c0c0"/>
<rect x="771" y="434" width="3" height="19" fill="#c0c0c0"/>
<rect x="779" y="434" width="3" height="23" fill="#c0c0c0"/>
<rect x="787" y="434" width="3" height="27" fill="#c0c0c0"/>
<rect x="795" y="434" width="3" height="36" fill="#c0c0c0"/>
<rect x="803" y="434" width="3" height="43" fill="#c0c0c0"/>
<rect x="811" y="434" width="3" height="49" fill="#c0c0c0"/>
<rect x="819" y="434" width="3" height="52" fill="#c0c0c0"/>
<rect x="827" y="434" width="3" height="48" fill="#c0c0c0"/>
<rect x="835" y="434" width="3" height="46" fill="#c0c0c0"/>
<rect x="843" y="434" width="3" height="47" fill="#c0c0c0"/>
<rect x="851" y="434" width="3" height="47" fill="#c0c0c0"/>
<rect x="859" y="434" width="3" height="46" fill="#c0c0c0"/>
<rect x="867" y="434" width="3" height="44" fill="#c0c0c0"/>
<rect x="875" y="434" width="3" height="40" fill="#c0c0c0"/>
<rect x="883" y="434" width="3" height="34" fill="#c0c0c0"/>
<rect x="891" y="434" width="3" height="30" fill="#c0c0c0"/>
<rect x="899" y="434" width="3" height="27" fill="#c0c0c0"/>
<rect x="907" y="434" width="3" height="25" fill="#c0c0c0"/>
<rect x="915" y="434" width="3" height="23" fill="#c0c0c0"/>
<path d="M681 425h10v1h-10zM489 426h34v1h-34zM669 426h12v1h-12zM691 426h16v1h-16zM484 427h5v1h-5zM523 427h6v1h-6zM663 427h6v1h-6zM707 427h6v1h-6zM477 428h7v1h-7zM529 428h6v1h-6zM659 428h4v1h-4zM713 428h6v1h-6zM469 429h8v1h-8zM535 429h4v1h-4zM656 429h3v1h-3zM719 429h4v1h-4zM461 430h8v1h-8zM539 430h3v1h-3zM654 430h2v1h-2zM723 430h6v1h-6zM454 431h7v1h-7zM542 431h2v1h-2zM651 431h3v1h-3zM729 431h6v1h-6zM449 432h5v1h-5zM544 432h3v1h-3zM649 432h2v1h-2zM735 432h4v1h-4zM419 433h30v1h-30zM547 433h2v1h-2zM646 433h3v1h-3zM739 433h6v1h-6zM397 434h22v1h-22zM549 434h3v1h-3zM643 434h3v1h-3zM745 434h6v1h-6zM389 435h8v1h-8zM552 435h3v1h-3zM641 435h2v1h-2zM751 435h4v1h-4zM381 436h8v1h-8zM555 436h4v1h-4zM638 436h3v1h-3zM755 436h4v1h-4zM373 437h8v1h-8zM559 437h4v1h-4zM635 437h3v1h-3zM759 437h4v1h-4zM365 438h8v1h-8zM563 438h3v1h-3zM633 438h2v1h-2zM763 438h4v1h-4zM359 439h6v1h-6zM566 439h3v1h-3zM630 439h3v1h-3zM767 439h4v1h-4zM355 440h4v1h-4zM569 440h2v1h-2zM627 440h3v1h-3zM771 440h3v1h-3zM4 441h5v1h-5zM349 441h6v1h-6zM571 441h4v1h-4zM623 441h4v1h-4zM774 441h3v1h-3zM9 442h18v1h-18zM341 442h8v1h-8zM575 442h4v1h-4zM619 442h4v1h-4zM777 442h2v1h-2zM27 443h4v1h-4zM333 443h8v1h-8zM579 443h4v1h-4zM617 443h2v1h-2zM779 443h3v1h-3zM31 444h4v1h-4zM325 444h8v1h-8zM583 444h4v1h-4zM615 444h2v1h-2zM782 444h3v1h-3zM35 445h4v1h-4zM317 445h8v1h-8zM587 445h5v1h-5zM611 445h4v1h-4zM785 445h2v1h-2zM39 446h4v1h-4zM307 446h10v1h-10zM592 446h19v1h-19zM787 446h3v1h-3zM43 447h4v1h-4zM293 447h14v1h-14zM790 447h2v1h-2zM47 448h4v1h-4zM281 448h12v1h-12zM792 448h2v1h-2zM51 449h4v1h-4zM273 449h8v1h-8zM794 449h2v1h-2zM55 450h4v1h-4zM266 450h7v1h-7zM796 450h2v1h-2zM59 451h3v1h-3zM260 451h6v1h-6zM798 451h2v1h-2zM62 452h3v1h-3zM254 452h6v1h-6zM800 452h2v1h-2zM65 453h2v1h-2zM249 453h5v1h-5zM802 453h2v1h-2zM67 454h3v1h-3zM243 454h6v1h-6zM804 454h1v1h-1zM70 455h3v1h-3zM238 455h5v1h-5zM805 455h2v1h-2zM73 456h2v1h-2zM232 456h6v1h-6zM807 456h1v1h-1zM75 457h3v1h-3zM227 457h5v1h-5zM808 457h1v1h-1zM78 458h3v1h-3zM223 458h4v1h-4zM809 458h2v1h-2zM81 459h2v1h-2zM219 459h4v1h-4zM811 459h1v1h-1zM83 460h3v1h-3zM215 460h4v1h-4zM812 460h2v1h-2zM86 461h3v1h-3zM211 461h4v1h-4zM814 461h2v1h-2zM89 462h2v1h-2zM207 462h4v1h-4zM816 462h2v1h-2zM91 463h3v1h-3zM203 463h4v1h-4zM818 463h2v1h-2zM94 464h3v1h-3zM198 464h5v1h-5zM820 464h2v1h-2zM97 465h2v1h-2zM193 465h5v1h-5zM822 465h2v1h-2zM99 466h4v1h-4zM188 466h5v1h-5zM824 466h2v1h-2zM103 467h4v1h-4zM183 467h5v1h-5zM826 467h2v1h-2zM107 468h3v1h-3zM178 468h5v1h-5zM828 468h2v1h-2zM914 468h2v1h-2zM110 469h3v1h-3zM173 469h5v1h-5zM830 469h3v1h-3zM912 469h2v1h-2zM113 470h2v1h-2zM168 470h5v1h-5zM833 470h2v1h-2zM910 470h2v1h-2zM115 471h6v1h-6zM163 471h5v1h-5zM835 471h3v1h-3zM907 471h3v1h-3zM121 472h7v1h-7zM152 472h11v1h-11zM838 472h3v1h-3zM903 472h4v1h-4zM128 473h24v1h-24zM841 473h2v1h-2zM899 473h4v1h-4zM843 474h3v1h-3zM897 474h2v1h-2zM846 475h3v1h-3zM894 475h3v1h-3zM849 476h2v1h-2zM891 476h3v1h-3zM851 477h4v1h-4zM887 477h4v1h-4zM855 478h4v1h-4zM883 478h4v1h-4zM859 479h5v1h-5zM880 479h3v1h-3zM864 480h16v1h-16z" fill="#ff0000"/>
</g>
<text x="8.5" y="430" font-size="9.8" fill="#000" text-anchor="start" textLength="64.5" lengthAdjust="spacingAndGlyphs" stroke="#000" stroke-width=".25">MACD(12,26,9)</text>
<text x="77" y="430" font-size="9.8" fill="#000" text-anchor="start" textLength="40.5" lengthAdjust="spacingAndGlyphs" stroke="#000" stroke-width=".25">-0.004956</text>
<text x="121" y="430" font-size="9.8" fill="#000" text-anchor="start" textLength="40.5" lengthAdjust="spacingAndGlyphs" stroke="#000" stroke-width=".25">-0.007597</text>
<rect x="1167" y="419" width="1" height="1" fill="#000"/>
<rect x="1167" y="434" width="1" height="1" fill="#000"/>
<rect x="1167" y="488" width="1" height="1" fill="#000"/>
<text x="1170" y="428" font-size="9.8" fill="#000" text-anchor="start" textLength="42" lengthAdjust="spacingAndGlyphs" stroke="#000" stroke-width=".25">0.003408</text>
<text x="1170" y="438" font-size="9.8" fill="#000" text-anchor="start" textLength="18" lengthAdjust="spacingAndGlyphs" stroke="#000" stroke-width=".25">0.00</text>
<text x="1170" y="486" font-size="9.8" fill="#000" text-anchor="start" textLength="45" lengthAdjust="spacingAndGlyphs" stroke="#000" stroke-width=".25">-0.012058</text>
<clipPath id="cr"><rect x="4" y="492" width="1162" height="73"/></clipPath>
<g clip-path="url(#cr)">
<path d="M5 514.5H1166" stroke="#c0c0c0" stroke-width="1" stroke-dasharray="3 3" fill="none"/>
<path d="M5 543.5H1166" stroke="#c0c0c0" stroke-width="1" stroke-dasharray="3 3" fill="none"/>
<path d="M449 519h6v1h-6zM599 519h19v1h-19zM446 520h3v1h-3zM455 520h2v1h-2zM596 520h3v1h-3zM618 520h6v1h-6zM444 521h2v1h-2zM457 521h2v1h-2zM595 521h1v1h-1zM624 521h2v1h-2zM442 522h2v1h-2zM459 522h2v1h-2zM594 522h1v1h-1zM626 522h16v1h-16zM365 523h6v1h-6zM441 523h1v1h-1zM461 523h16v1h-16zM593 523h1v1h-1zM642 523h3v1h-3zM349 524h2v1h-2zM363 524h2v1h-2zM371 524h2v1h-2zM439 524h2v1h-2zM477 524h1v1h-1zM592 524h1v1h-1zM645 524h1v1h-1zM347 525h2v1h-2zM351 525h2v1h-2zM362 525h1v1h-1zM373 525h1v1h-1zM413 525h6v1h-6zM437 525h2v1h-2zM478 525h1v1h-1zM591 525h1v1h-1zM646 525h2v1h-2zM345 526h2v1h-2zM353 526h2v1h-2zM360 526h2v1h-2zM374 526h2v1h-2zM411 526h2v1h-2zM419 526h6v1h-6zM433 526h4v1h-4zM479 526h1v1h-1zM590 526h1v1h-1zM648 526h1v1h-1zM300 527h6v1h-6zM329 527h7v1h-7zM343 527h2v1h-2zM355 527h2v1h-2zM358 527h2v1h-2zM376 527h1v1h-1zM409 527h2v1h-2zM425 527h3v1h-3zM431 527h2v1h-2zM480 527h1v1h-1zM589 527h1v1h-1zM649 527h1v1h-1zM659 527h2v1h-2zM681 527h14v1h-14zM260 528h1v1h-1zM298 528h2v1h-2zM306 528h9v1h-9zM321 528h8v1h-8zM336 528h3v1h-3zM341 528h2v1h-2zM357 528h1v1h-1zM377 528h1v1h-1zM408 528h1v1h-1zM428 528h3v1h-3zM481 528h1v1h-1zM586 528h3v1h-3zM650 528h2v1h-2zM657 528h2v1h-2zM661 528h2v1h-2zM676 528h5v1h-5zM695 528h2v1h-2zM884 528h2v1h-2zM4 529h1v1h-1zM204 529h1v1h-1zM258 529h2v1h-2zM261 529h1v1h-1zM296 529h2v1h-2zM315 529h6v1h-6zM339 529h2v1h-2zM378 529h2v1h-2zM406 529h2v1h-2zM482 529h1v1h-1zM507 529h13v1h-13zM582 529h4v1h-4zM652 529h1v1h-1zM655 529h2v1h-2zM663 529h2v1h-2zM674 529h2v1h-2zM697 529h2v1h-2zM882 529h2v1h-2zM886 529h3v1h-3zM5 530h2v1h-2zM203 530h1v1h-1zM205 530h2v1h-2zM257 530h1v1h-1zM262 530h2v1h-2zM294 530h2v1h-2zM380 530h1v1h-1zM394 530h9v1h-9zM404 530h2v1h-2zM483 530h1v1h-1zM487 530h9v1h-9zM505 530h2v1h-2zM520 530h3v1h-3zM579 530h3v1h-3zM653 530h2v1h-2zM665 530h1v1h-1zM672 530h2v1h-2zM699 530h7v1h-7zM722 530h7v1h-7zM880 530h2v1h-2zM889 530h2v1h-2zM7 531h1v1h-1zM202 531h1v1h-1zM207 531h2v1h-2zM256 531h1v1h-1zM264 531h1v1h-1zM291 531h3v1h-3zM381 531h5v1h-5zM391 531h3v1h-3zM403 531h1v1h-1zM484 531h3v1h-3zM496 531h3v1h-3zM502 531h3v1h-3zM523 531h5v1h-5zM577 531h2v1h-2zM666 531h2v1h-2zM670 531h2v1h-2zM706 531h8v1h-8zM719 531h3v1h-3zM729 531h2v1h-2zM878 531h2v1h-2zM891 531h15v1h-15zM913 531h3v1h-3zM8 532h1v1h-1zM201 532h1v1h-1zM209 532h2v1h-2zM218 532h14v1h-14zM254 532h2v1h-2zM265 532h1v1h-1zM287 532h4v1h-4zM386 532h5v1h-5zM499 532h3v1h-3zM528 532h4v1h-4zM575 532h2v1h-2zM668 532h2v1h-2zM714 532h5v1h-5zM731 532h2v1h-2zM876 532h2v1h-2zM906 532h7v1h-7zM9 533h1v1h-1zM148 533h6v1h-6zM200 533h1v1h-1zM211 533h2v1h-2zM215 533h3v1h-3zM232 533h3v1h-3zM252 533h2v1h-2zM266 533h2v1h-2zM283 533h4v1h-4zM532 533h2v1h-2zM573 533h2v1h-2zM733 533h1v1h-1zM748 533h1v1h-1zM828 533h3v1h-3zM874 533h2v1h-2zM9 534h1v1h-1zM146 534h2v1h-2zM154 534h8v1h-8zM169 534h9v1h-9zM199 534h1v1h-1zM213 534h2v1h-2zM235 534h4v1h-4zM249 534h3v1h-3zM268 534h1v1h-1zM279 534h4v1h-4zM534 534h2v1h-2zM572 534h1v1h-1zM734 534h1v1h-1zM747 534h1v1h-1zM749 534h2v1h-2zM827 534h1v1h-1zM831 534h4v1h-4zM872 534h2v1h-2zM10 535h1v1h-1zM125 535h2v1h-2zM144 535h2v1h-2zM162 535h7v1h-7zM178 535h3v1h-3zM198 535h1v1h-1zM239 535h4v1h-4zM246 535h3v1h-3zM269 535h10v1h-10zM536 535h1v1h-1zM571 535h1v1h-1zM735 535h1v1h-1zM746 535h1v1h-1zM751 535h2v1h-2zM763 535h3v1h-3zM827 535h1v1h-1zM835 535h3v1h-3zM870 535h2v1h-2zM11 536h1v1h-1zM124 536h1v1h-1zM127 536h3v1h-3zM142 536h2v1h-2zM181 536h5v1h-5zM197 536h1v1h-1zM243 536h3v1h-3zM537 536h2v1h-2zM570 536h1v1h-1zM736 536h1v1h-1zM745 536h1v1h-1zM753 536h2v1h-2zM761 536h2v1h-2zM766 536h2v1h-2zM826 536h1v1h-1zM838 536h2v1h-2zM866 536h4v1h-4zM11 537h1v1h-1zM124 537h1v1h-1zM130 537h12v1h-12zM186 537h11v1h-11zM539 537h1v1h-1zM569 537h1v1h-1zM737 537h1v1h-1zM743 537h2v1h-2zM755 537h2v1h-2zM759 537h2v1h-2zM768 537h2v1h-2zM826 537h1v1h-1zM840 537h2v1h-2zM860 537h6v1h-6zM12 538h3v1h-3zM123 538h1v1h-1zM540 538h1v1h-1zM569 538h1v1h-1zM738 538h1v1h-1zM742 538h1v1h-1zM757 538h2v1h-2zM770 538h2v1h-2zM825 538h1v1h-1zM842 538h2v1h-2zM851 538h9v1h-9zM15 539h4v1h-4zM122 539h1v1h-1zM541 539h2v1h-2zM568 539h1v1h-1zM739 539h1v1h-1zM741 539h1v1h-1zM772 539h7v1h-7zM824 539h1v1h-1zM844 539h7v1h-7zM19 540h19v1h-19zM122 540h1v1h-1zM543 540h2v1h-2zM567 540h1v1h-1zM740 540h1v1h-1zM779 540h4v1h-4zM824 540h1v1h-1zM38 541h2v1h-2zM69 541h2v1h-2zM121 541h1v1h-1zM545 541h2v1h-2zM566 541h1v1h-1zM783 541h4v1h-4zM823 541h1v1h-1zM40 542h2v1h-2zM67 542h2v1h-2zM71 542h2v1h-2zM120 542h1v1h-1zM547 542h2v1h-2zM560 542h6v1h-6zM787 542h2v1h-2zM823 542h1v1h-1zM42 543h2v1h-2zM66 543h1v1h-1zM73 543h2v1h-2zM120 543h1v1h-1zM549 543h11v1h-11zM789 543h2v1h-2zM822 543h1v1h-1zM44 544h2v1h-2zM64 544h2v1h-2zM75 544h5v1h-5zM119 544h1v1h-1zM791 544h1v1h-1zM822 544h1v1h-1zM46 545h3v1h-3zM63 545h1v1h-1zM80 545h6v1h-6zM118 545h1v1h-1zM792 545h2v1h-2zM820 545h2v1h-2zM49 546h2v1h-2zM61 546h2v1h-2zM86 546h18v1h-18zM118 546h1v1h-1zM794 546h2v1h-2zM818 546h2v1h-2zM51 547h10v1h-10zM104 547h4v1h-4zM114 547h4v1h-4zM796 547h3v1h-3zM815 547h3v1h-3zM108 548h6v1h-6zM799 548h16v1h-16z" fill="#1e90ff"/>
</g>
<text x="8.3" y="504" font-size="9.8" fill="#000" text-anchor="start" textLength="31.5" lengthAdjust="spacingAndGlyphs" stroke="#000" stroke-width=".25">RSI(14)</text>
<text x="43.2" y="504" font-size="9.8" fill="#000" text-anchor="start" textLength="33" lengthAdjust="spacingAndGlyphs" stroke="#000" stroke-width=".25">45.8924</text>
<rect x="1167" y="493" width="1" height="1" fill="#000"/>
<rect x="1167" y="564" width="1" height="1" fill="#000"/>
<text x="1170" y="502" font-size="9.8" fill="#000" text-anchor="start" textLength="15" lengthAdjust="spacingAndGlyphs" stroke="#000" stroke-width=".25">100</text>
<text x="1169" y="518" font-size="9.8" fill="#000" text-anchor="start" textLength="9.5" lengthAdjust="spacingAndGlyphs" stroke="#000" stroke-width=".25">70</text>
<text x="1169" y="547" font-size="9.8" fill="#000" text-anchor="start" textLength="9.5" lengthAdjust="spacingAndGlyphs" stroke="#000" stroke-width=".25">30</text>
<text x="1170" y="562" font-size="9.8" fill="#000" text-anchor="start" textLength="5" lengthAdjust="spacingAndGlyphs" stroke="#000" stroke-width=".25">0</text>
<rect x="4" y="566" width="1" height="3" fill="#000"/>
<text x="3.2" y="578" font-size="9.8" fill="#000" text-anchor="start" textLength="48" lengthAdjust="spacingAndGlyphs" stroke="#000" stroke-width=".25">9 Nov 2021</text>
<rect x="68" y="566" width="1" height="3" fill="#000"/>
<text x="67.2" y="578" font-size="9.8" fill="#000" text-anchor="start" textLength="53.3" lengthAdjust="spacingAndGlyphs" stroke="#000" stroke-width=".25">18 Nov 2021</text>
<rect x="132" y="566" width="1" height="3" fill="#000"/>
<text x="131.2" y="578" font-size="9.8" fill="#000" text-anchor="start" textLength="53.3" lengthAdjust="spacingAndGlyphs" stroke="#000" stroke-width=".25">28 Nov 2021</text>
<rect x="196" y="566" width="1" height="3" fill="#000"/>
<text x="195.2" y="578" font-size="9.8" fill="#000" text-anchor="start" textLength="46" lengthAdjust="spacingAndGlyphs" stroke="#000" stroke-width=".25">7 Dec 2021</text>
<rect x="260" y="566" width="1" height="3" fill="#000"/>
<text x="259.2" y="578" font-size="9.8" fill="#000" text-anchor="start" textLength="51.3" lengthAdjust="spacingAndGlyphs" stroke="#000" stroke-width=".25">16 Dec 2021</text>
<rect x="324" y="566" width="1" height="3" fill="#000"/>
<text x="323.2" y="578" font-size="9.8" fill="#000" text-anchor="start" textLength="51.3" lengthAdjust="spacingAndGlyphs" stroke="#000" stroke-width=".25">26 Dec 2021</text>
<rect x="388" y="566" width="1" height="3" fill="#000"/>
<text x="387.2" y="578" font-size="9.8" fill="#000" text-anchor="start" textLength="43.7" lengthAdjust="spacingAndGlyphs" stroke="#000" stroke-width=".25">4 Jan 2022</text>
<rect x="452" y="566" width="1" height="3" fill="#000"/>
<text x="451.2" y="578" font-size="9.8" fill="#000" text-anchor="start" textLength="49.0" lengthAdjust="spacingAndGlyphs" stroke="#000" stroke-width=".25">13 Jan 2022</text>
<rect x="516" y="566" width="1" height="3" fill="#000"/>
<text x="515.2" y="578" font-size="9.8" fill="#000" text-anchor="start" textLength="49.0" lengthAdjust="spacingAndGlyphs" stroke="#000" stroke-width=".25">23 Jan 2022</text>
<rect x="580" y="566" width="1" height="3" fill="#000"/>
<text x="579.2" y="578" font-size="9.8" fill="#000" text-anchor="start" textLength="46" lengthAdjust="spacingAndGlyphs" stroke="#000" stroke-width=".25">1 Feb 2022</text>
<rect x="644" y="566" width="1" height="3" fill="#000"/>
<text x="643.2" y="578" font-size="9.8" fill="#000" text-anchor="start" textLength="51.3" lengthAdjust="spacingAndGlyphs" stroke="#000" stroke-width=".25">10 Feb 2022</text>
<rect x="708" y="566" width="1" height="3" fill="#000"/>
<text x="707.2" y="578" font-size="9.8" fill="#000" text-anchor="start" textLength="51.3" lengthAdjust="spacingAndGlyphs" stroke="#000" stroke-width=".25">20 Feb 2022</text>
<rect x="772" y="566" width="1" height="3" fill="#000"/>
<text x="771.2" y="578" font-size="9.8" fill="#000" text-anchor="start" textLength="46" lengthAdjust="spacingAndGlyphs" stroke="#000" stroke-width=".25">1 Mar 2022</text>
<rect x="836" y="566" width="1" height="3" fill="#000"/>
<text x="835.2" y="578" font-size="9.8" fill="#000" text-anchor="start" textLength="51.3" lengthAdjust="spacingAndGlyphs" stroke="#000" stroke-width=".25">10 Mar 2022</text>
<rect x="900" y="566" width="1" height="3" fill="#000"/>
<text x="899.2" y="578" font-size="9.8" fill="#000" text-anchor="start" textLength="51.3" lengthAdjust="spacingAndGlyphs" stroke="#000" stroke-width=".25">20 Mar 2022</text>
<rect x="0" y="586" width="1207" height="1" fill="#e4e4e4"/>
<rect x="0" y="589" width="1207" height="20" fill="#f0f0f0"/>
<rect x="0" y="589" width="1207" height="1" fill="#ffffff"/>
<rect x="0" y="588" width="1207" height="1" fill="#000"/>
<rect x="0" y="589" width="1" height="18" fill="#505050"/>
<rect x="1" y="589" width="1" height="18" fill="#ffffff"/>
<rect x="0" y="607" width="1207" height="1" fill="#f6f6f6"/>
<rect x="0" y="608" width="1207" height="1" fill="#f6f6f6"/>
<rect x="106" y="588" width="106" height="18" fill="#fff"/>
<rect x="104" y="589" width="1" height="20" fill="#ffffff"/>
<rect x="213" y="589" width="1" height="20" fill="#ffffff"/>
<rect x="105" y="588" width="1" height="19" fill="#000"/>
<rect x="212" y="588" width="1" height="19" fill="#000"/>
<rect x="105" y="606" width="108" height="1" fill="#000"/>
<text x="16" y="603" font-size="13" fill="#808080" text-anchor="start" textLength="77" lengthAdjust="spacingAndGlyphs">USDX,Weekly</text>
<text x="116" y="603" font-size="13" fill="#000" text-anchor="start" textLength="85" lengthAdjust="spacingAndGlyphs">EURUSD-,Daily</text>
<text x="223" y="603" font-size="13" fill="#808080" text-anchor="start" textLength="87" lengthAdjust="spacingAndGlyphs">AUDUSD-,Daily</text>
<text x="333" y="603" font-size="13" fill="#808080" text-anchor="start" textLength="84" lengthAdjust="spacingAndGlyphs">USDCHF-,Daily</text>
<text x="440" y="603" font-size="13" fill="#808080" text-anchor="start" textLength="86" lengthAdjust="spacingAndGlyphs">USDCAD-,Daily</text>
<text x="549" y="603" font-size="13" fill="#808080" text-anchor="start" textLength="88" lengthAdjust="spacingAndGlyphs">USDCNH-,Daily</text>
<text x="660" y="603" font-size="13" fill="#808080" text-anchor="start" textLength="73" lengthAdjust="spacingAndGlyphs">XAUUSD-,H1</text>
<text x="755" y="603" font-size="13" fill="#808080" text-anchor="start" textLength="66" lengthAdjust="spacingAndGlyphs">UKOil-,M15</text>
<text x="845" y="603" font-size="13" fill="#808080" text-anchor="start" textLength="64" lengthAdjust="spacingAndGlyphs">DJ30-,Daily</text>
<text x="932" y="603" font-size="13" fill="#808080" text-anchor="start" textLength="62" lengthAdjust="spacingAndGlyphs">UK100-,H1</text>
<text x="1018" y="603" font-size="13" fill="#808080" text-anchor="start" textLength="55" lengthAdjust="spacingAndGlyphs">USOil-,H4</text>
<text x="1095" y="603" font-size="13" fill="#808080" text-anchor="start" textLength="67" lengthAdjust="spacingAndGlyphs">HK50-,Daily</text>
<rect x="321" y="591" width="1" height="14" fill="#707070"/>
<rect x="429" y="591" width="1" height="14" fill="#707070"/>
<rect x="537" y="591" width="1" height="14" fill="#707070"/>
<rect x="649" y="591" width="1" height="14" fill="#707070"/>
<rect x="745" y="591" width="1" height="14" fill="#707070"/>
<rect x="833" y="591" width="1" height="14" fill="#707070"/>
<rect x="921" y="591" width="1" height="14" fill="#707070"/>
<rect x="1005" y="591" width="1" height="14" fill="#707070"/>
<rect x="1085" y="591" width="1" height="14" fill="#707070"/>
<rect x="1173" y="591" width="1" height="14" fill="#707070"/>
<path d="M1182 597.5 l3.3 -3.3 v6.6z M1204.3 597.5 l-3.3 -3.3 v6.6z" fill="#a0a0a0" shape-rendering="geometricPrecision"/>
</svg>
</body></html>
